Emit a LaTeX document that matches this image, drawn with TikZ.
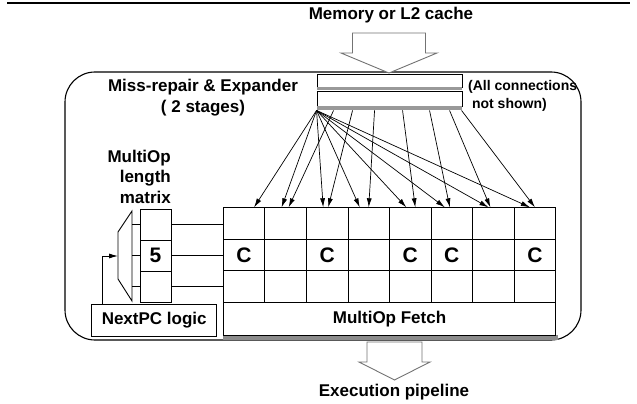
\documentclass[tikz,border=0pt]{standalone}
\usepackage{fontspec}
\setmainfont{Liberation Sans}
\usetikzlibrary{arrows.meta}

\tikzset{
  box/.style={draw, line width=0.9pt, inner sep=0pt},
  cell/.style={draw, line width=0.8pt, minimum width=41.55pt, minimum height=31.5pt, inner sep=0pt},
  fanarrow/.style={-{Latex[length=9pt,width=5pt]}, line width=0.7pt},
  hollow/.style={draw=black!55, line width=0.9pt, fill=white},
  lbl/.style={font=\fontsize{17}{20.5}\selectfont\bfseries, inner sep=0pt},
  bigtxt/.style={font=\fontsize{21}{24}\selectfont\bfseries, inner sep=0pt},
}

\begin{document}
\begin{tikzpicture}[x=1pt,y=-1pt]
\useasboundingbox (0,0) rectangle (637,404);
\draw[line width=2.2pt] (7,3) -- (630,3);

% memory side
\node[lbl] (mem) at (391,15) {Memory or L2 cache};
\node[box, line width=1.1pt, rounded corners=30pt, minimum width=516pt, minimum height=268pt] (unit) at (323,206) {};
\draw[hollow] (352.5,33) -- (425.5,33) -- (425.5,53) -- (437,53) -- (389,73) -- (341,53) -- (352.5,53) -- cycle;

% expander stages
\node[box, minimum width=145pt, minimum height=13pt] (reg1) at (389.5,80.5) {};
\fill[black!40] (reg1.south west) rectangle ++(145,3);
\node[box, minimum width=145pt, minimum height=15pt] (reg2) at (389.5,98.5) {};
\fill[black!40] (reg2.south west) rectangle ++(145,4);
\coordinate (fan) at ([yshift=-4pt]reg2.south west);

\node[lbl, align=center] (mre) at (203,97.5) {Miss-repair \& Expander\\( 2 stages)};
\node[font=\fontsize{14}{18}\selectfont\bfseries, inner sep=0pt, align=left, anchor=west] (note) at (468,96) {(All connections\\~not shown)};
\node[lbl, align=right, anchor=east] (mlm) at (171,176.5) {MultiOp\\length\\matrix};

% length matrix and mux
\node[cell, minimum width=31pt, minimum height=31pt] (m1) at (155.5,224.5) {};
\node[cell, minimum width=31pt, minimum height=31pt] (m2) at (155.5,255.5) {};
\node[cell, minimum width=31pt, minimum height=31pt] (m3) at (155.5,286.5) {};
\node[bigtxt] (five) at (m2) {5};
\draw[line width=0.9pt] (118,232) -- (132,211) -- (132,301) -- (118,279) -- cycle;
\coordinate (muxin) at (118,256);
\coordinate (muxout) at (132,0);
\foreach \r in {1,2,3}
  \draw (m\r.west) -- (m\r.west -| muxout);

% fetch grid
\foreach \c in {1,...,8}
  \foreach \r in {1,2,3}
    \node[cell] (g\c-\r) at ({223.3+41.55*(\c-0.5)},{207.7+31.5*(\r-0.5)}) {};
\foreach \c in {1,3,5,6,8}
  \node[bigtxt] (C\c) at (g\c-2) {C};
\foreach \r in {1,2,3}
  \draw (m\r.east) -- (m\r.east -| g1-\r.west);

\fill[black!45] (223.3,335) rectangle (557.5,339.5);
\node[box, lbl, minimum width=332.4pt, minimum height=32.7pt] (fetch) at (389.5,318.65) {MultiOp Fetch};

\node[box, lbl, minimum width=125pt, minimum height=32pt] (npc) at (154.2,320) {NextPC logic};
\draw[-{Latex[length=9pt,width=5pt]}, line width=0.8pt] ([xshift=11pt]npc.north west) |- (muxin);

% expander to fetch grid
\foreach \c/\dx in {1/10,2/-4,3/-4,4/-9,5/-4,6/-7,7/-5,8/-5}
  \draw[fanarrow] (fan) -- ([xshift=\dx pt]g\c-1.north);
\foreach \c/\sx/\dx in {2/17/3,3/36/1,4/58/0,5/86/5,6/113/-2,7/133/-3,8/145/0}
  \draw[fanarrow] ([xshift=\sx pt]fan) -- ([xshift=\dx pt]g\c-1.north);

% out to pipeline
\draw[hollow] (367,342) -- (422,342) -- (422,362) -- (430,362) -- (394.5,380) -- (359,362) -- (367,362) -- cycle;
\node[lbl] (exe) at (394,392) {Execution pipeline};
\end{tikzpicture}
\end{document}
